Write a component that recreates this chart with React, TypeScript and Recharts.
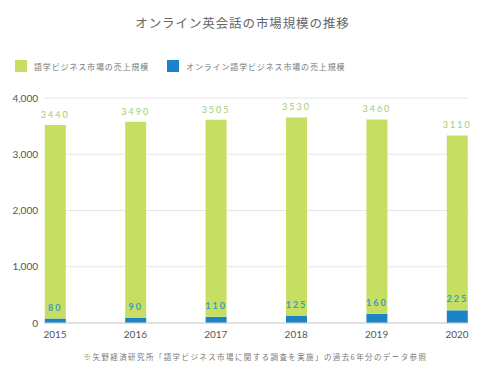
import { Bar, BarChart, CartesianGrid, LabelList, XAxis, YAxis } from "recharts";

const years = ["2015", "2016", "2017", "2018", "2019", "2020"];
const totalSales = [3440, 3490, 3505, 3530, 3460, 3110];
const onlineSales = [80, 90, 110, 125, 160, 225];
const yTicks = [0, 1000, 2000, 3000, 4000];

const GREEN = "#c6df63";
const BLUE = "#1b84c8";
const GREEN_TEXT = "#97d16e";
const BLUE_TEXT = "#3b9cc0";
const JP = "'Noto Sans CJK JP', sans-serif";

const chartData = years.map((year, i) => ({
  year,
  total: totalSales[i],
  online: onlineSales[i],
}));

function LegendItem({ color, label }: { color: string; label: string }) {
  return (
    <div style={{ display: "flex", alignItems: "center", marginRight: 18 }}>
      <div style={{ width: 12, height: 12, background: color, marginRight: 7 }} />
      <span style={{ fontSize: 8, color: "#777", letterSpacing: 0.85 }}>{label}</span>
    </div>
  );
}

export default function App() {
  return (
    <div
      style={{
        position: "fixed",
        left: 0,
        top: 0,
        width: 491,
        height: 381,
        background: "#fff",
        fontFamily: JP,
      }}
    >
      <div
        style={{
          position: "absolute",
          top: 13,
          left: 0,
          width: 491,
          paddingRight: 6,
          boxSizing: "border-box",
          textAlign: "center",
          fontSize: 12.5,
          color: "#666",
          letterSpacing: 0.9,
          fontWeight: 400,
        }}
      >
        オンライン英会話の市場規模の推移
      </div>
      <div style={{ position: "absolute", top: 60, left: 15, display: "flex" }}>
        <LegendItem color={GREEN} label="語学ビジネス市場の売上規模" />
        <LegendItem color={BLUE} label="オンライン語学ビジネス市場の売上規模" />
      </div>
      <BarChart
        width={491}
        height={381}
        data={chartData}
        margin={{ top: 98, right: 23, left: 0, bottom: 28 }}
        style={{ position: "absolute", left: 0, top: 0 }}
      >
        <CartesianGrid vertical={false} stroke="#e6e6e6" />
        <XAxis
          dataKey="year"
          scale="point"
          padding={{ left: 11, right: 11 }}
          tickLine={false}
          axisLine={{ stroke: "#cfcfcf" }}
          tick={{ fontSize: 10, fill: "#555", fontFamily: "Lato" }}
          tickMargin={2}
        />
        <YAxis
          width={44}
          domain={[0, 4000]}
          ticks={yTicks}
          tickLine={false}
          axisLine={false}
          tickSize={0}
          tickMargin={6}
          tick={{ fontSize: 10, fill: "#555", fontFamily: "Lato" }}
          tickFormatter={(v) => v.toLocaleString("en-US")}
        />
        <Bar dataKey="online" stackId="a" fill={BLUE} barSize={21} isAnimationActive={false}>
          <LabelList
            dataKey="online"
            position="top"
            offset={8}
            style={{ fontSize: 9, fill: BLUE_TEXT, letterSpacing: 2, fontFamily: "Lato", fontWeight: 700 }}
          />
        </Bar>
        <Bar dataKey="total" stackId="a" fill={GREEN} barSize={21} isAnimationActive={false}>
          <LabelList
            dataKey="total"
            position="top"
            offset={7}
            style={{ fontSize: 9, fill: GREEN_TEXT, letterSpacing: 2, fontFamily: "Lato" }}
          />
        </Bar>
      </BarChart>
      <div
        style={{
          position: "absolute",
          top: 351,
          left: 0,
          width: 491,
          paddingLeft: 20,
          boxSizing: "border-box",
          textAlign: "center",
          fontSize: 7.5,
          color: "#777",
          letterSpacing: 1.4,
        }}
      >
        ※矢野経済研究所「語学ビジネス市場に関する調査を実施」の過去6年分のデータ参照
      </div>
    </div>
  );
}
